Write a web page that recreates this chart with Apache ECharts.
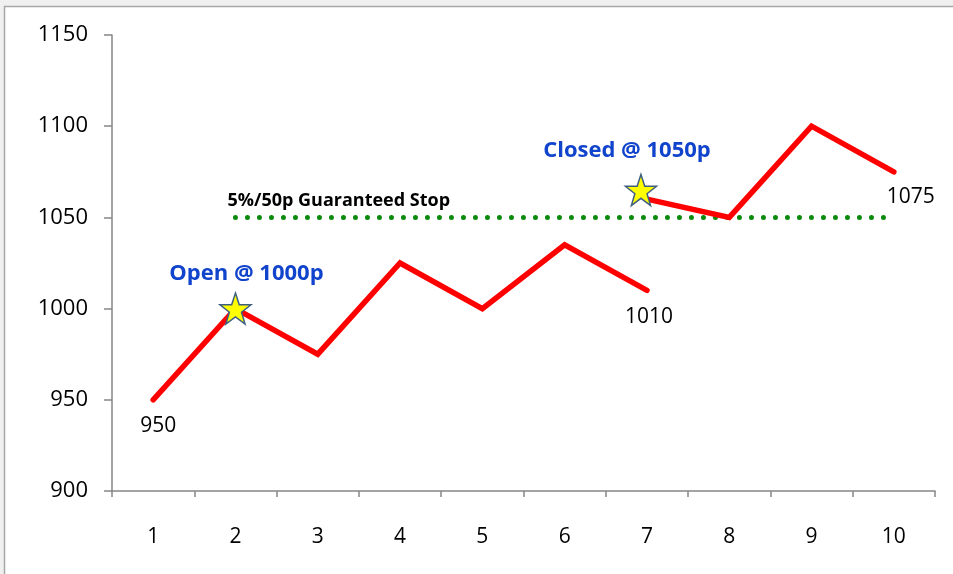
<!DOCTYPE html>
<html>
<head>
<meta charset="utf-8">
<script src="https://cdn.jsdelivr.net/npm/echarts@6/dist/echarts.min.js"></script>
<style>
  html, body { margin: 0; padding: 0; background: #f0f0f0; }
  #main { width: 953px; height: 574px; }
</style>
</head>
<body>
<div id="main"></div>
<script>
// data
var days = ['1', '2', '3', '4', '5', '6', '7', '8', '9', '10'];
var beforeGap = [950, 1000, 975, 1025, 1000, 1035, 1010, '-', '-', '-'];
var afterGap = ['-', '-', '-', '-', '-', '-', 1060, 1050, 1100, 1075];
var stopLevel = ['-', 1050, 1050, 1050, 1050, 1050, 1050, 1050, 1050, 1050];
var stars = ['-', 1000, '-', '-', '-', '-', 1065, '-', '-', '-'];
var starNotes = ['', 'Open @ 1000p', '', '', '', '', 'Closed @ 1050p', '', '', ''];
var yTicks = [900, 950, 1000, 1050, 1100, 1150];

var FONT = '"Open Sans", sans-serif';
var STAR = 'path://M50,2 L61.5,36 L97,36 L68.5,57.5 L79,92 L50,71 L21,92 L31.5,57.5 L3,36 L38.5,36 Z';

// value labels only on a few points
function withLabels(vals, show, offsets) {
  return vals.map(function (v, i) {
    if (show.indexOf(i) < 0 || v === '-') return v;
    return { value: v, label: { show: true, offset: offsets[i] || [0, 0] } };
  });
}

var myChart = echarts.init(document.getElementById('main'));
myChart.setOption({
  backgroundColor: '#f0f0f0',
  animation: false,
  graphic: [{
    type: 'rect',
    z: -10,
    shape: { x: 4.5, y: 6.5, width: 1000, height: 600 },
    style: { fill: '#ffffff', stroke: '#a6a6a6', lineWidth: 1.5 }
  }],
  grid: { left: 112, right: 18, top: 35, bottom: 83 },
  xAxis: {
    type: 'category',
    data: days,
    boundaryGap: true,
    axisLine: { lineStyle: { color: '#868686', width: 1.5 } },
    axisTick: { show: true, length: 6, lineStyle: { color: '#868686', width: 1.5 } },
    axisLabel: { color: '#000', fontSize: 21, fontFamily: FONT, margin: 36 },
    splitLine: { show: false }
  },
  yAxis: {
    type: 'value',
    min: yTicks[0],
    max: yTicks[yTicks.length - 1],
    interval: 50,
    axisLine: { show: true, lineStyle: { color: '#868686', width: 1.5 } },
    axisTick: { show: true, length: 8, lineStyle: { color: '#868686', width: 1.5 } },
    axisLabel: { color: '#000', fontSize: 22, fontFamily: FONT, margin: 24, formatter: function (v) { return String(v); } },
    splitLine: { show: false }
  },
  series: [
    {
      name: 'stop',
      type: 'line',
      data: stopLevel.map(function (v, i) {
        if (i === 2) return { value: v, label: { show: true } };
        return v;
      }),
      symbol: 'circle',
      symbolSize: 0,
      showSymbol: true,
      lineStyle: { color: '#0a8a0a', width: 5, type: [0, 12], cap: 'round' },
      label: {
        show: false,
        position: 'top',
        distance: 8,
        offset: [21, 0],
        formatter: '5%/50p Guaranteed Stop',
        color: '#000',
        fontSize: 18,
        fontWeight: 'bold',
        fontFamily: FONT
      },
      z: 2
    },
    {
      name: 'before',
      type: 'line',
      data: withLabels(beforeGap, [0, 6], { 0: [5, 0], 6: [2, 0] }),
      symbol: 'circle',
      symbolSize: 0,
      showSymbol: true,
      lineStyle: { color: '#ff0000', width: 5.5, cap: 'round', join: 'miter' },
      label: { show: false, position: 'bottom', distance: 16, color: '#000', fontSize: 21, fontFamily: FONT },
      z: 3
    },
    {
      name: 'after',
      type: 'line',
      data: withLabels(afterGap, [9], { 9: [17, 0] }),
      symbol: 'circle',
      symbolSize: 0,
      showSymbol: true,
      lineStyle: { color: '#ff0000', width: 5.5, cap: 'round', join: 'miter' },
      label: { show: false, position: 'bottom', distance: 15, color: '#000', fontSize: 21, fontFamily: FONT },
      z: 3
    },
    {
      name: 'stars',
      type: 'scatter',
      data: stars.map(function (v, i) {
        if (v === '-') return v;
        return {
          value: v,
          symbolOffset: i === 6 ? [-6, 0] : [0, 0],
          label: { show: true, formatter: starNotes[i], offset: i === 6 ? [-14, -4] : [11, 0] }
        };
      }),
      symbol: STAR,
      symbolSize: 31,
      itemStyle: { color: '#ffff00', borderColor: '#3f5f80', borderWidth: 1.5, opacity: 1 },
      label: {
        show: false,
        position: 'top',
        distance: 8,
        color: '#1144cc',
        fontSize: 22,
        fontWeight: 'bold',
        fontFamily: FONT
      },
      z: 5
    }
  ]
});
</script>
</body>
</html>
